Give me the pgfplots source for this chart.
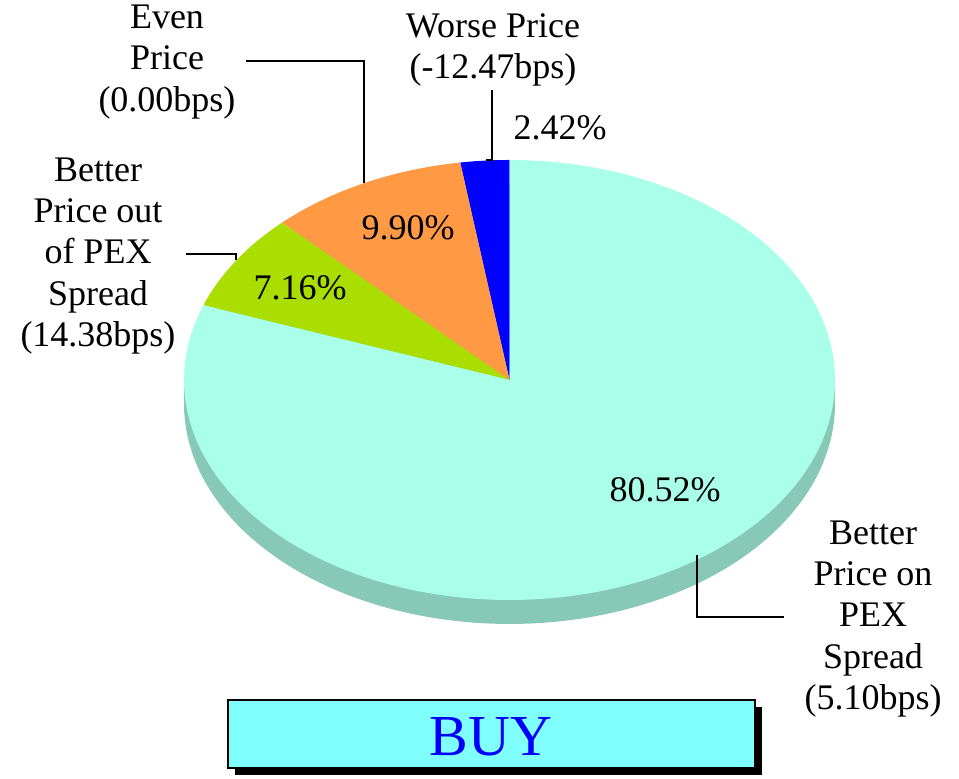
\documentclass[border=0pt]{standalone}
\usepackage{pgfplots}
\pgfplotsset{compat=1.18}
\usepackage{fontspec}
\setmainfont{Liberation Serif}
\definecolor{ctop}{RGB}{170,255,232}
\definecolor{cside}{RGB}{136,200,182}
\definecolor{cgreen}{RGB}{170,221,0}
\definecolor{corange}{RGB}{255,153,68}
\definecolor{cblue}{RGB}{0,0,255}
\definecolor{cbox}{RGB}{128,255,255}
\tikzset{lbl/.style={font=\fontsize{18}{20.6}\selectfont}}
\begin{document}
\begin{tikzpicture}
% shares in percent
\def\pWorse{2.42}
\def\pEven{9.90}
\def\pOut{7.16}
\def\pOn{80.52}
\pgfmathsetmacro{\aA}{90}
\pgfmathsetmacro{\aB}{\aA+3.6*\pWorse}
\pgfmathsetmacro{\aC}{\aB+3.6*\pEven}
\pgfmathsetmacro{\aD}{\aC+3.6*\pOut}
\pgfmathsetmacro{\aE}{\aD+3.6*\pOn}
\def\cx{509.5}\def\cy{399}\def\rx{325.5}\def\ry{220}\def\dep{24}
\begin{axis}[width=479.5pt,height=389.5pt,scale only axis,
  xmin=0,xmax=959,ymin=0,ymax=779,hide axis,clip=false]
\path (axis cs:0,0) rectangle (axis cs:959,779);
% side of the pie
\fill[cside] (axis cs:{\cx-\rx},{\cy-\dep}) rectangle (axis cs:{\cx+\rx},{\cy});
\addplot[fill=cside,draw=none,domain=0:360,samples=181,variable=\t]
  ({\cx+\rx*cos(\t)},{\cy-\dep+\ry*sin(\t)}) -- cycle;
% slices
\addplot[fill=cblue,draw=none,domain=\aA:\aB,samples=20,variable=\t]
  ({\cx+\rx*cos(\t)},{\cy+\ry*sin(\t)}) -- (axis cs:\cx,\cy) -- cycle;
\addplot[fill=corange,draw=none,domain=\aB:\aC,samples=40,variable=\t]
  ({\cx+\rx*cos(\t)},{\cy+\ry*sin(\t)}) -- (axis cs:\cx,\cy) -- cycle;
\addplot[fill=cgreen,draw=none,domain=\aC:\aD,samples=40,variable=\t]
  ({\cx+\rx*cos(\t)},{\cy+\ry*sin(\t)}) -- (axis cs:\cx,\cy) -- cycle;
\addplot[fill=ctop,draw=none,domain=\aD:\aE,samples=200,variable=\t]
  ({\cx+\rx*cos(\t)},{\cy+\ry*sin(\t)}) -- (axis cs:\cx,\cy) -- cycle;
% percentage labels
\node[lbl] at (axis cs:560,651) {2.42\%};
\node[lbl] at (axis cs:408,551) {9.90\%};
\node[lbl] at (axis cs:300,491) {7.16\%};
\node[lbl] at (axis cs:665,289) {80.52\%};
% leader lines
\draw[black,line width=0.6pt] (axis cs:486,619) -- (axis cs:492,619) -- (axis cs:492,689);
\draw[black,line width=0.6pt] (axis cs:246,718) -- (axis cs:364,718) -- (axis cs:364,596);
\draw[black,line width=0.6pt] (axis cs:186,525) -- (axis cs:236,525) -- (axis cs:236,519);
\draw[black,line width=0.6pt] (axis cs:697,224) -- (axis cs:697,162) -- (axis cs:784,162);
% category labels
\node[lbl,align=center,inner sep=0pt] at (axis cs:493,729) {Worse Price\\(-12.47bps)};
\node[lbl,align=center,inner sep=0pt] at (axis cs:167,717) {Even\\Price\\(0.00bps)};
\node[lbl,align=center,inner sep=0pt] at (axis cs:98,523) {Better\\Price out\\of PEX\\Spread\\(14.38bps)};
\node[lbl,align=center,inner sep=0pt] at (axis cs:873,160) {Better\\Price on\\PEX\\Spread\\(5.10bps)};
% BUY box
\fill[black] (axis cs:235,4) rectangle (axis cs:762,72);
\filldraw[fill=cbox,draw=black,line width=1pt] (axis cs:228,11) rectangle (axis cs:755,79);
\node[text=blue,font=\fontsize{29}{32}\selectfont] at (axis cs:491,42) {BUY};
\end{axis}
\end{tikzpicture}
\end{document}
